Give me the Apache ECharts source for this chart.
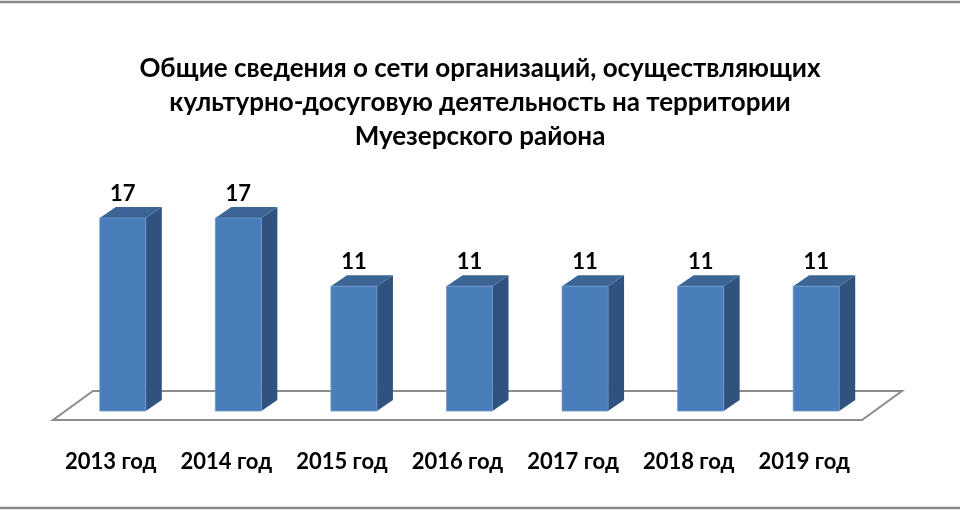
<!DOCTYPE html>
<html>
<head>
<meta charset="utf-8">
<script src="https://cdn.jsdelivr.net/npm/echarts@6/dist/echarts.min.js"></script>
<style>
  html, body { margin: 0; padding: 0; background: #fff; }
  #main { width: 960px; height: 510px; }
</style>
</head>
<body>
<div id="main"></div>
<script>
var categories = ['2013 год', '2014 год', '2015 год', '2016 год', '2017 год', '2018 год', '2019 год'];
var values = [17, 17, 11, 11, 11, 11, 11];

var chartDom = document.getElementById('main');
var myChart = echarts.init(chartDom);
var option;

// floor depth and bar geometry (pixels)
var floorDX = 40, floorDY = -29;
var barShiftX = 12, barShiftY = -9;
var barW = 46, sideDX = 16, sideDY = -11;

function renderFloor(params, api) {
  var band = api.size([1, 0])[0];
  var p0 = api.coord([0, 0]);
  var p1 = api.coord([categories.length - 1, 0]);
  var x0 = p0[0] - band / 2, x1 = p1[0] + band / 2, y = p0[1];
  return {
    type: 'polygon',
    shape: { points: [[x0, y], [x1, y], [x1 + floorDX, y + floorDY], [x0 + floorDX, y + floorDY]] },
    style: { fill: '#fff', stroke: '#8c8c8c', lineWidth: 2 }
  };
}

function renderBar(params, api) {
  var base = api.coord([api.value(0), 0]);
  var top = api.coord([api.value(0), api.value(1)]);
  var cx = base[0] + barShiftX;
  var x0 = cx - barW / 2, x1 = cx + barW / 2;
  var yb = base[1] + barShiftY, yt = top[1] + barShiftY;
  return {
    type: 'group',
    children: [
      {
        type: 'polygon',
        shape: { points: [[x1, yb], [x1 + sideDX, yb + sideDY], [x1 + sideDX, yt + sideDY], [x1, yt]] },
        style: { fill: '#30527f' }
      },
      {
        type: 'polygon',
        shape: { points: [[x0, yt], [x1, yt], [x1 + sideDX, yt + sideDY], [x0 + sideDX, yt + sideDY]] },
        style: { fill: '#3c6595' }
      },
      {
        type: 'rect',
        shape: { x: x0, y: yt, width: barW, height: yb - yt },
        style: { fill: '#4a7ebb', stroke: '#6b97cc', lineWidth: 0.8 }
      },
      {
        type: 'text',
        style: {
          text: String(api.value(1)),
          x: cx, y: yt + sideDY - 2,
          align: 'center', verticalAlign: 'bottom',
          fill: '#000', font: 'bold 22px Lato'
        }
      }
    ]
  };
}

option = {
  backgroundColor: '#fff',
  title: {
    text: 'Общие сведения о сети организаций, осуществляющих\nкультурно-досуговую деятельность на территории\nМуезерского района',
    left: 'center',
    top: 47,
    textStyle: {
      color: '#000',
      fontSize: 26,
      fontWeight: 'bold',
      fontFamily: 'Lato',
      lineHeight: 34
    }
  },
  graphic: [
    { type: 'line', shape: { x1: 0, y1: 2, x2: 960, y2: 2 }, style: { stroke: '#8a8a8a', lineWidth: 2.5 } },
    { type: 'line', shape: { x1: 0, y1: 508, x2: 960, y2: 508 }, style: { stroke: '#8a8a8a', lineWidth: 2.5 } }
  ],
  grid: { left: 53, right: 98, top: 193, bottom: 90 },
  xAxis: {
    type: 'category',
    data: categories,
    axisLine: { show: false },
    axisTick: { show: false },
    axisLabel: {
      interval: 0,
      color: '#000',
      fontSize: 22,
      fontWeight: 'bold',
      fontFamily: 'Lato',
      margin: 31
    }
  },
  yAxis: {
    type: 'value',
    min: 0,
    max: 20,
    show: false
  },
  series: [
    {
      type: 'custom',
      renderItem: renderFloor,
      data: [[0, 0]],
      silent: true,
      z: 1
    },
    {
      type: 'custom',
      renderItem: renderBar,
      data: values.map(function (v, i) { return [i, v]; }),
      encode: { x: 0, y: 1 },
      z: 2
    }
  ]
};

option && myChart.setOption(option);
</script>
</body>
</html>
